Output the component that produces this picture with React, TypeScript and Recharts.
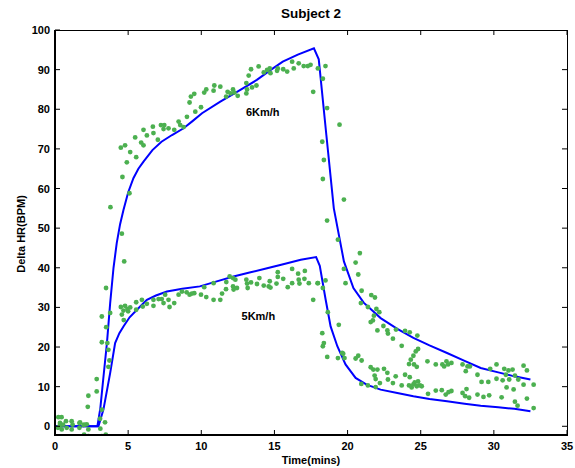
import {
  ComposedChart,
  Line,
  XAxis,
  YAxis,
} from "recharts";

// model curves (minutes, delta HR)
const model6Km: [number, number][] = [
  [0, 0], [2.9, 0], [3.1, 4.6], [3.3, 12], [3.55, 21], [3.77, 31], [4.0, 40],
  [4.22, 46.2], [4.45, 51], [4.68, 54.6], [5.0, 59], [5.36, 62.6], [5.7, 65],
  [6.05, 66.8], [6.66, 69.7], [7.28, 71.8], [8.0, 73.5], [8.79, 75.2], [9.4, 77],
  [10.05, 79], [11.3, 81.9], [12.5, 84.5], [13.8, 87.4], [14.7, 89.8], [15.57, 92],
  [16.6, 93.8], [17.7, 95.4], [18.03, 92.6], [18.55, 73.5], [19.06, 55],
  [19.75, 41.6], [20.4, 34.9], [21.1, 31.2], [22.26, 27.3], [23.4, 24.6],
  [24.5, 22.3], [25.6, 20.4], [26.8, 18.5], [28.0, 16.5], [29.1, 14.7],
  [30.3, 13.6], [31.4, 12.6], [32.5, 11.8],
];

const model5Km: [number, number][] = [
  [0, 0], [2.97, 0], [3.31, 4.2], [3.55, 9], [3.77, 13.4], [4.11, 21], [4.4, 23.5],
  [4.68, 25.2], [5.1, 27.5], [5.6, 29.4], [6.28, 31.9], [6.9, 33], [7.65, 34],
  [8.7, 34.7], [9.9, 35.3], [11, 36.5], [12.2, 37.8], [13.3, 38.8], [14.5, 39.9],
  [15.6, 40.9], [16.8, 42], [17.85, 42.7], [18.1, 40.5], [18.5, 32], [18.84, 25.2],
  [19.3, 20.2], [19.86, 15.6], [20.55, 12.2], [21.3, 10.5], [22.26, 9.25],
  [23.4, 8.4], [24.5, 7.6], [25.6, 6.9], [26.8, 6.3], [28.0, 5.7], [29.1, 5.2],
  [30.3, 4.8], [31.4, 4.4], [32.5, 3.8],
];

// measured beats (baseline before walking)
const restDots: [number, number][] = [
  [0.23, 2.3], [0.45, 2.3], [0.34, 0.85], [0.3, 0], [0.46, -0.8], [0.2, -0.4],
  [0.55, 0.4], [0.75, 1.3], [1.14, 1.3], [1.2, 0.4], [0.8, -0.4], [1.14, -0.8],
  [1.67, 0.8], [1.71, 1.0], [1.67, -0.4], [1.95, 0.3], [2.0, 0.4], [2.17, 0.5],
  [2.28, -0.8], [1.99, -2.1], [2.28, -2.5], [2.24, 4.9], [2.28, 7.7], [2.85, 8.8],
  [2.85, 11.9], [3.08, 1.9], [3.42, 1.0], [3.1, -0.6], [3.2, -2.5], [3.47, -2.1],
  [3.2, 4.2],
];

const dots6Km: [number, number][] = [
  [3.49, 34.9], [4.73, 41.6], [4.57, 48.6], [3.79, 55.3], [5.09, 58.8], [4.61, 62.9],
  [4.91, 66.6], [5.55, 67.9], [5.14, 69.2], [4.5, 70.3], [4.79, 70.9], [5.48, 72.9],
  [5.89, 71.6], [6.05, 70.9], [6.28, 73.4], [6.73, 74], [7.03, 72.3], [6.05, 74.8],
  [6.69, 75.6], [7.24, 76], [7.47, 76], [7.42, 75], [7.76, 75.2], [8.15, 74.8],
  [8.45, 76.9], [8.56, 76], [8.79, 75.5], [9.02, 78.1], [9.59, 79.4], [9.98, 80.5],
  [9.2, 81.7], [9.29, 83.2], [9.52, 83.9], [10.2, 84.2], [10.34, 85], [10.84, 84.7],
  [10.89, 86], [11.3, 85.7], [11.7, 83.2], [11.8, 84.4], [12.0, 84], [12.17, 85],
  [12.26, 84.2], [12.49, 83.4], [13.08, 86.6], [13.13, 85], [13.08, 84], [13.47, 85.5],
  [13.77, 86], [13.24, 88.5], [13.4, 90.1], [13.92, 90.8], [14.27, 89.3], [14.5, 89.9],
  [14.68, 90.3], [14.73, 89.1], [15.18, 89.7], [15.23, 90.3], [15.6, 90.1],
  [15.87, 89.5], [16.21, 92], [16.32, 90.3], [16.66, 91.6], [17.0, 90.9],
  [17.28, 90.9], [17.47, 91.2], [17.97, 90.3], [18.49, 90.9], [17.65, 84.4],
  [18.31, 87.7], [18.6, 80.3], [18.27, 71.8], [18.38, 67.2], [18.31, 62.4],
  [19.45, 76.1], [19.75, 57.2], [18.6, 51.9], [19.34, 47.1], [20.84, 43.7],
  [20.55, 41.3], [19.75, 39.7], [20.73, 38.3], [19.86, 36.1], [20.96, 34.2],
  [21.62, 33.1], [21.87, 32.5], [20.91, 31.1], [21.39, 30.1], [21.97, 29.6],
  [22.17, 28.8], [21.8, 27.9], [21.73, 26.7], [21.58, 26.3], [22.04, 24.2],
  [22.45, 25.3], [22.72, 24.2], [22.76, 23.4], [23.1, 22.1], [23.31, 24.4],
  [23.7, 20.3], [23.93, 24.1], [24.25, 23.7], [24.77, 22.9], [24.32, 16.8],
  [24.5, 17.8], [24.66, 18.9], [24.82, 19.5], [24.54, 15.6], [24.2, 15.7],
  [24.73, 15], [25.46, 16.4], [26.03, 15.6], [26.48, 15.6], [26.6, 15.1],
  [26.76, 16.4], [26.87, 15.6], [27.1, 16], [27.86, 15.6], [28.08, 13.9],
  [28.2, 15.1], [28.36, 15.1], [28.88, 13], [29.16, 11.2], [29.62, 11.2],
  [29.75, 14.5], [30.18, 15.6], [30.18, 12], [30.6, 11.6], [30.71, 14.5],
  [30.82, 13], [31.0, 14.1], [31.05, 11.8], [31.28, 14.3], [31.44, 12.8],
  [31.67, 11.8], [32.03, 15.3], [32.26, 14.1], [32.03, 10.5], [32.72, 10.5],
];

const dots5Km: [number, number][] = [
  [3.2, 21.2], [3.2, 27.7], [3.5, 25], [3.58, 21], [3.65, 19.3], [3.72, 16.6],
  [3.65, 15], [3.77, 28.6], [4.7, 26.8], [4.5, 30.1], [4.79, 30.4], [4.57, 28.2],
  [4.68, 29.2], [4.95, 29.6], [5.14, 30], [5.0, 29], [5.55, 31.3], [5.55, 29.4],
  [5.94, 31.9], [6.0, 30.2], [6.28, 30.9], [6.73, 31.9], [6.73, 30.4], [7.08, 32.1],
  [7.3, 32.1], [7.42, 31.1], [7.76, 31.9], [7.83, 30.1], [8.15, 31.1], [7.53, 33.2],
  [8.45, 33.2], [8.68, 34], [9.0, 33.8], [9.2, 33.2], [9.52, 33.6], [9.36, 33.5],
  [9.98, 33.2], [10.34, 32.6], [10.2, 35.1], [10.84, 31.9], [11.3, 31.9],
  [11.42, 33.5], [10.84, 36.1], [11.69, 34.6], [11.71, 36.4], [11.94, 37.8],
  [12.17, 37.4], [12.33, 37], [12.17, 35.3], [12.21, 34.5], [12.44, 34.9],
  [13.08, 37], [13.13, 36], [13.17, 34.9], [13.4, 36.3], [13.81, 35.9], [13.97, 37.4],
  [14.27, 35.5], [14.61, 35.3], [14.68, 36.6], [14.73, 35], [15.14, 36], [15.23, 37.7],
  [15.23, 38.9], [15.6, 37.2], [15.91, 35.1], [16.21, 36.1], [16.21, 39.7],
  [16.62, 38.5], [16.66, 37], [16.71, 36], [17.05, 37.2], [17.08, 39.2], [17.35, 36.1],
  [17.95, 36.1], [17.65, 31.9], [17.97, 36.1], [18.49, 36.8], [18.31, 34.9],
  [18.65, 28.8], [19.4, 25.6], [18.27, 23.5], [18.38, 21], [18.31, 20.2],
  [18.61, 17.5], [19.34, 17.2], [19.7, 18.3], [19.79, 17.2], [19.63, 18.5],
  [20.55, 17.1], [20.73, 17.8], [20.96, 16.6], [20.94, 10.7], [21.39, 10.3],
  [21.58, 14.9], [21.76, 14.3], [22.04, 14.3], [21.85, 12.8], [21.92, 11.9],
  [21.92, 9.9], [22.21, 10.9], [22.49, 14.5], [22.72, 13.5], [22.76, 11.8],
  [23.1, 10.9], [23.29, 12.6], [23.7, 10.3], [23.93, 13], [24.25, 12.4], [24.2, 10.3],
  [24.38, 9.8], [24.5, 10.6], [24.59, 11.1], [24.73, 10.1], [24.82, 11.3],
  [24.95, 10.3], [25.07, 10.1], [25.5, 8.2], [26.03, 9.0], [26.44, 9.1], [26.71, 8.0],
  [26.9, 8.6], [27.1, 8.9], [27.86, 8.4], [28.04, 7.6], [28.13, 9.4], [28.31, 7.2],
  [28.88, 8.0], [29.29, 7.4], [29.68, 7.8], [30.53, 7.3], [30.87, 9.8], [31.35, 9.3],
  [31.44, 6.2], [31.62, 5.2], [32.26, 7.0], [32.72, 4.6],
];

// curve annotations
const speedNames = ["6Km/h", "5Km/h"];
const speedLabelAt: [number, number][] = [[14.2, 79.3], [13.9, 27.9]];

const xTicks = [0, 5, 10, 15, 20, 25, 30, 35];
const yTicks = [0, 10, 20, 30, 40, 50, 60, 70, 80, 90, 100];
const xRange: [number, number] = [0, 35];
const yRange: [number, number] = [-2.2, 100];

const toRows = (pts: [number, number][]) => pts.map(([t, hr]) => ({ t, hr }));
const labelRows = speedLabelAt.map(([t, hr], i) => ({ t, hr, name: speedNames[i] }));
const topTickRows = xTicks.map((t) => ({ t, hr: yRange[1] }));
const rightTickRows = yTicks.map((hr) => ({ t: xRange[1], hr }));

const font = "'Liberation Sans', Arial, Helvetica, sans-serif";
const tickText = { fontFamily: font, fontSize: 11, fontWeight: 700, fill: "#000" };
const green = "#4cb050";

// tick marks are drawn as thin filled rects
const BottomTick = (p: any) => (
  <g>
    <rect x={p.x - 0.5} y={p.y - 5} width={1} height={5} fill="#000" />
    <text x={p.x} y={p.y + 15} textAnchor="middle" style={tickText}>
      {p.payload.value}
    </text>
  </g>
);
const LeftTick = (p: any) => (
  <g>
    <rect x={p.x} y={p.y - 0.5} width={5} height={1} fill="#000" />
    <text x={p.x - 5} y={p.y + 4} textAnchor="end" style={tickText}>
      {p.payload.value}
    </text>
  </g>
);

// dots drawn as markers on stroke-less lines
const Dot = (p: any) => <circle key={p.index} cx={p.cx} cy={p.cy} r={2.4} fill={green} />;
const SpeedLabel = (p: any) => (
  <text key={p.index} x={p.cx} y={p.cy + 4} textAnchor="middle" style={tickText}>
    {p.payload.name}
  </text>
);
const TopMark = (p: any) => (
  <rect key={p.index} x={p.cx - 0.5} y={p.cy} width={1} height={5} fill="#000" />
);
const RightMark = (p: any) => (
  <rect key={p.index} x={p.cx - 5} y={p.cy - 0.5} width={5} height={1} fill="#000" />
);

const htmlText = { position: "absolute" as const, fontFamily: font, fontWeight: 700, textAlign: "center" as const };

const markerLine = (rows: any[], dot: any, key: string) => (
  <Line
    key={key}
    data={rows}
    dataKey="hr"
    type="linear"
    stroke="none"
    strokeWidth={0}
    dot={dot}
    activeDot={false}
    legendType="none"
    isAnimationActive={false}
  />
);

export default function App() {
  return (
    <div style={{ position: "absolute", left: 0, top: 0, width: 575, height: 468, background: "#fff" }}>
      <ComposedChart width={575} height={468} margin={{ top: 30, right: 8, bottom: 0, left: 0 }}>
        <XAxis
          dataKey="t"
          type="number"
          domain={xRange}
          ticks={xTicks}
          interval={0}
          allowDataOverflow
          height={33}
          tickSize={0}
          tickMargin={0}
          tick={<BottomTick />}
          tickLine={false}
          axisLine={false}
        />
        <YAxis
          type="number"
          domain={yRange}
          ticks={yTicks}
          interval={0}
          allowDataOverflow
          width={55}
          tickSize={0}
          tickMargin={0}
          tick={<LeftTick />}
          tickLine={false}
          axisLine={false}
        />
        <Line
          data={toRows(model6Km)}
          dataKey="hr"
          type="linear"
          stroke="#0000ff"
          strokeWidth={2}
          dot={false}
          activeDot={false}
          isAnimationActive={false}
        />
        <Line
          data={toRows(model5Km)}
          dataKey="hr"
          type="linear"
          stroke="#0000ff"
          strokeWidth={2}
          dot={false}
          activeDot={false}
          isAnimationActive={false}
        />
        {markerLine(toRows(restDots), <Dot />, "rest")}
        {markerLine(toRows(dots6Km), <Dot />, "d6")}
        {markerLine(toRows(dots5Km), <Dot />, "d5")}
        {markerLine(labelRows, <SpeedLabel />, "labels")}
        {markerLine(topTickRows, <TopMark />, "topTicks")}
        {markerLine(rightTickRows, <RightMark />, "rightTicks")}
      </ComposedChart>
      {/* plot box */}
      <div
        style={{
          position: "absolute",
          left: 54,
          top: 30,
          width: 514,
          height: 406,
          boxSizing: "border-box",
          borderTop: "1px solid #000",
          borderRight: "1px solid #000",
          borderLeft: "2px solid #000",
          borderBottom: "2px solid #000",
          pointerEvents: "none",
        }}
      />
      <div style={{ ...htmlText, left: 55, width: 512, top: 6, lineHeight: "16px", fontSize: 13.5 }}>
        Subject 2
      </div>
      <div style={{ ...htmlText, left: 55, width: 512, top: 454, lineHeight: "13px", fontSize: 11 }}>
        Time(mins)
      </div>
      <div
        style={{
          ...htmlText,
          left: -39,
          width: 120,
          top: 227,
          lineHeight: "14px",
          fontSize: 11,
          transform: "rotate(-90deg)",
        }}
      >
        Delta HR(BPM)
      </div>
    </div>
  );
}
